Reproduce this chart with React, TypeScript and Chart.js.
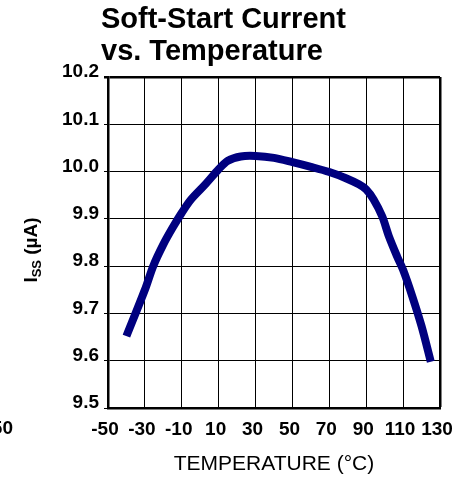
import React, { useEffect, useRef } from 'react';
import { Chart, registerables } from 'chart.js';

Chart.register(...registerables);

const temperatures = [-40, -30, -25.5, -20, -15, -10, -5, 3, 10, 15, 22, 30, 40, 50, 60, 70, 79, 86, 90, 94, 98.7, 102.3, 106.8, 110, 115, 120, 125];
const currents = [9.652, 9.75, 9.8, 9.846, 9.881, 9.913, 9.941, 9.974, 10.005, 10.023, 10.032, 10.033, 10.029, 10.02, 10.01, 9.999, 9.986, 9.973, 9.962, 9.941, 9.905, 9.863, 9.82, 9.792, 9.736, 9.673, 9.598];
const xTicks = [-50, -30, -10, 10, 30, 50, 70, 90, 110, 130];
const yTicks = [9.5, 9.6, 9.7, 9.8, 9.9, 10.0, 10.1, 10.2];
const titleLines = ['Soft-Start Current', 'vs. Temperature'];
const xTitle = 'TEMPERATURE (°C)';
const yTitleMain = 'I';
const yTitleSub = 'SS';
const yTitleUnit = ' (µA)';
const strayLabel = '50';

const FONT = '"Liberation Sans", Arial, Helvetica, sans-serif';

const textPlugin = {
  id: 'customTexts',
  afterDraw(chart: any) {
    const { ctx, chartArea } = chart;
    ctx.save();
    ctx.fillStyle = '#000';
    // title
    ctx.font = `bold 29px ${FONT}`;
    ctx.textAlign = 'left';
    ctx.textBaseline = 'alphabetic';
    ctx.fillText(titleLines[0], chartArea.left - 7, 28);
    ctx.fillText(titleLines[1], chartArea.left - 7, 60);
    // x title
    ctx.font = `21px ${FONT}`;
    ctx.textAlign = 'center';
    ctx.textBaseline = 'middle';
    ctx.fillText(xTitle, (chartArea.left + chartArea.right) / 2, 464);
    // y title
    ctx.save();
    ctx.translate(30, 250);
    ctx.rotate(-Math.PI / 2);
    ctx.textAlign = 'left';
    ctx.textBaseline = 'alphabetic';
    const mainFont = `bold 19px ${FONT}`;
    const subFont = `bold 13px ${FONT}`;
    ctx.font = mainFont;
    const wI = ctx.measureText(yTitleMain).width;
    const wU = ctx.measureText(yTitleUnit).width;
    ctx.font = subFont;
    const wS = ctx.measureText(yTitleSub).width;
    let x = -(wI + wS + wU) / 2;
    ctx.font = mainFont;
    ctx.fillText(yTitleMain, x, 7);
    x += wI;
    ctx.font = subFont;
    ctx.fillText(yTitleSub, x, 11);
    x += wS;
    ctx.font = mainFont;
    ctx.fillText(yTitleUnit, x, 7);
    ctx.restore();
    // stray cropped label from neighbouring chart
    ctx.font = `bold 19px ${FONT}`;
    ctx.textAlign = 'right';
    ctx.textBaseline = 'top';
    ctx.fillText(strayLabel, 13, 419);
    ctx.restore();
  },
};

export default function App() {
  const canvasRef = useRef<HTMLCanvasElement | null>(null);

  useEffect(() => {
    document.body.style.margin = '0';
    const canvas = canvasRef.current;
    if (!canvas) return;
    const chart = new Chart(canvas, {
      type: 'scatter',
      data: {
        datasets: [
          {
            data: temperatures.map((t, i) => ({ x: t, y: currents[i] })),
            showLine: true,
            borderColor: '#00007f',
            borderWidth: 8,
            pointRadius: 0,
            tension: 0.3,
            borderCapStyle: 'butt',
            borderJoinStyle: 'round',
          },
        ],
      },
      options: {
        responsive: false,
        animation: false,
        layout: { padding: { left: 0, right: 27, top: 77, bottom: 0 } },
        plugins: {
          legend: { display: false },
          title: { display: false },
          tooltip: { enabled: false },
        },
        scales: {
          x: {
            type: 'linear',
            min: -50,
            max: 130,
            afterBuildTicks: (scale: any) => {
              scale.ticks = xTicks.map((v) => ({ value: v }));
            },
            afterFit: (scale: any) => {
              scale.height = 70;
            },
            ticks: {
              autoSkip: false,
              maxRotation: 0,
              minRotation: 0,
              padding: 10,
              labelOffset: -3,
              color: '#000',
              font: { family: FONT, size: 19, weight: 'bold' },
              callback: (v: any) => String(v),
            },
            grid: {
              color: '#000',
              lineWidth: (c: any) => (c.index === xTicks.length - 1 ? 2.5 : 1),
              drawTicks: false,
            },
            border: { display: true, color: '#000', width: 2.5 },
          },
          y: {
            type: 'linear',
            min: 9.5,
            max: 10.2,
            afterBuildTicks: (scale: any) => {
              scale.ticks = yTicks.map((v) => ({ value: v }));
            },
            afterFit: (scale: any) => {
              scale.width = 108;
            },
            ticks: {
              autoSkip: false,
              padding: 5,
              labelOffset: -5,
              color: '#000',
              font: { family: FONT, size: 19, weight: 'bold' },
              callback: (v: any) => Number(v).toFixed(1),
            },
            grid: {
              color: '#000',
              lineWidth: (c: any) => (c.index === yTicks.length - 1 ? 2.5 : 1),
              drawTicks: true,
              tickLength: 4,
              tickColor: '#000',
            },
            border: { display: true, color: '#000', width: 2.5 },
          },
        },
      },
      plugins: [textPlugin],
    });
    return () => chart.destroy();
  }, []);

  return (
    <div style={{ position: 'fixed', left: 0, top: 0, width: 467, height: 478, background: '#fff' }}>
      <canvas ref={canvasRef} width={467} height={478} style={{ display: 'block' }} />
    </div>
  );
}
